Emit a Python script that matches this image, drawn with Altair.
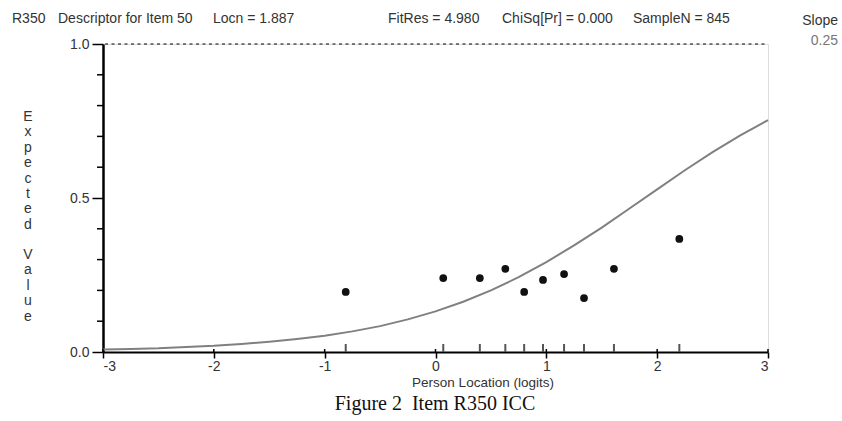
import altair as alt
import pandas as pd

# Expected-score curve (item characteristic curve), sampled along the logit axis
curve_x = [-3.0, -2.75, -2.5, -2.25, -2.0, -1.75, -1.5, -1.25, -1.0, -0.75, -0.5, -0.25,
           0.0, 0.25, 0.5, 0.75, 1.0, 1.25, 1.5, 1.75, 2.0, 2.25, 2.5, 2.75, 3.0]
curve_y = [0.008, 0.010, 0.012, 0.016, 0.020, 0.026, 0.033, 0.042, 0.053, 0.067, 0.084, 0.106,
           0.132, 0.163, 0.200, 0.243, 0.292, 0.346, 0.404, 0.466, 0.528, 0.590, 0.649, 0.703, 0.753]

# Observed class-interval means
obs_x = [-0.81, 0.07, 0.40, 0.63, 0.80, 0.97, 1.16, 1.34, 1.61, 2.20]
obs_y = [0.195, 0.240, 0.240, 0.270, 0.195, 0.234, 0.253, 0.175, 0.270, 0.367]

x_ticks = [-3, -2, -1, 0, 1, 2, 3]
y_major = [0.0, 0.5, 1.0]
y_minor = [0.1, 0.2, 0.3, 0.4, 0.6, 0.7, 0.8, 0.9]

header_items = ["R350", "Descriptor for Item 50", "Locn = 1.887",
                "FitRes = 4.980", "ChiSq[Pr] = 0.000", "SampleN = 845"]
slope_label = "Slope"
slope_value = "0.25"
x_title = "Person Location (logits)"
y_title_words = ["Expected", "Value"]
caption = "Figure 2\u00a0\u00a0Item R350 ICC"

W, H = 665, 308
L, T = 103, 44
SANS = "Liberation Sans"
SERIF = "Liberation Serif"

curve_df = pd.DataFrame({"loc": curve_x, "ev": curve_y})
obs_df = pd.DataFrame({"loc": obs_x, "ev": obs_y})
minor_df = pd.DataFrame({"ev": y_minor})
xt_df = pd.DataFrame({"loc": x_ticks})

x_scale = alt.Scale(domain=[-3, 3], nice=False, zero=False)
y_scale = alt.Scale(domain=[0, 1], nice=False, zero=False)

x_axis = alt.Axis(values=x_ticks, title=None, grid=False, tickSize=6, tickWidth=1.5,
                  tickColor="black", domainColor="black", domainWidth=2,
                  labelFont=SANS, labelFontSize=14, labelColor="#333",
                  labelPadding=1, labelExpr="'' + datum.value")
y_axis = alt.Axis(values=y_major, title=None, grid=False, tickSize=11, tickWidth=1.5,
                  tickColor="black", domainColor="black", domainWidth=2.5,
                  labelFont=SANS, labelFontSize=14, labelColor="#333",
                  labelPadding=3, format=".1f")

curve = alt.Chart(curve_df).mark_line(color="#808080", strokeWidth=2).encode(
    x=alt.X("loc:Q", scale=x_scale, axis=x_axis),
    y=alt.Y("ev:Q", scale=y_scale, axis=y_axis),
)

points = alt.Chart(obs_df).mark_circle(size=60, color="#111111", opacity=1).encode(
    x=alt.X("loc:Q", scale=x_scale),
    y=alt.Y("ev:Q", scale=y_scale),
)

rug = alt.Chart(obs_df).mark_rule(color="#555555", strokeWidth=2).encode(
    x=alt.X("loc:Q", scale=x_scale),
    y=alt.value(H - 8),
    y2=alt.value(H),
)

int_ticks_up = alt.Chart(xt_df).mark_rule(color="black", strokeWidth=1.5).encode(
    x=alt.X("loc:Q", scale=x_scale),
    y=alt.value(H - 3),
    y2=alt.value(H),
)

top_line = alt.Chart(pd.DataFrame({"ev": [1.0]})).mark_rule(
    color="black", strokeWidth=1, strokeDash=[3, 3.5]
).encode(
    y=alt.Y("ev:Q", scale=y_scale),
    x=alt.value(2),
    x2=alt.value(W),
)

minor_ticks = alt.Chart(minor_df).mark_rule(color="black", strokeWidth=1.5).encode(
    y=alt.Y("ev:Q", scale=y_scale),
    x=alt.value(-6),
    x2=alt.value(0),
)


def label(text, px, py, size=14, color="#333", align="left", font=SANS, **kw):
    return alt.Chart(pd.DataFrame({"t": [0]})).mark_text(
        text=text, align=align, baseline="middle", font=font,
        fontSize=size, color=color, **kw
    ).encode(x=alt.value(px - L), y=alt.value(py - T))


header_x = [12, 58, 213, 388, 502, 633]
texts = [label(t, hx, 19) for t, hx in zip(header_items, header_x)]
texts.append(label(slope_label, 838, 21, align="right"))
texts.append(label(slope_value, 838, 41, align="right", color="#777"))
texts.append(label(x_title, 483, 383, size=13.5, align="center"))
texts.append(label(caption, 435, 404, size=20, color="#111", align="center", font=SERIF))

# vertical axis title: one letter per line, the two words as separate blocks
for word, first_y in zip(y_title_words, [117, 255]):
    texts.append(label(list(word), 28, first_y, align="center", lineHeight=15.4))

chart = alt.layer(
    top_line, minor_ticks, curve, rug, int_ticks_up, points, *texts
).properties(
    width=W, height=H,
    autosize=alt.AutoSizeParams(type="none"),
    padding={"left": L, "top": T, "right": 842 - L - W, "bottom": 421 - T - H},
).configure_view(stroke=None).configure(background="white")

chart.save("out.html", embed_options={"renderer": "svg", "actions": False})
